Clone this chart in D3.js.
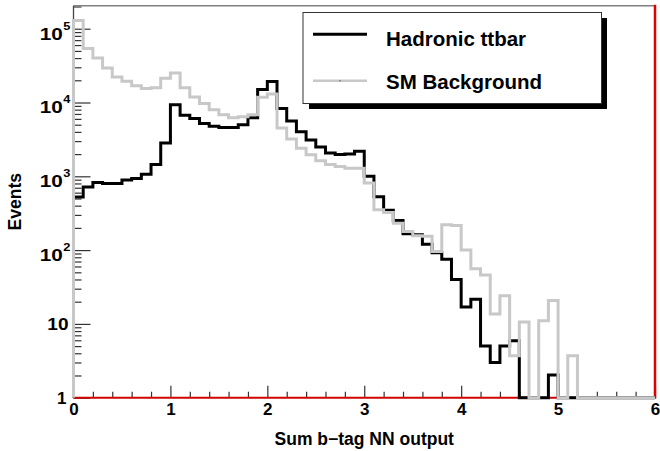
<!DOCTYPE html>
<html><head><meta charset="utf-8">
<script src="https://cdn.jsdelivr.net/npm/d3@7"></script>
<style>
body{margin:0;background:#fff}
svg{display:block}
text{font-family:"Liberation Sans",Arial,Helvetica,sans-serif;font-weight:bold;fill:#000}
</style>
</head><body>
<svg id="chart" width="660" height="451"></svg>
<script>
// ---- data (60 bins of width 0.1 from 0 to 6) ----
const binWidth = 0.1;
const xMin = 0, xMax = 6;
const hadronicTtbar = [
  524, 716, 826, 801, 801, 891, 937, 1070, 1440, 2830,
  9300, 6700, 6050, 5200, 4760, 4600, 4600, 5000, 6200, 15000,
  19300, 8300, 5600, 4000, 3100, 2500, 2070, 1970, 2000, 2180,
  1000, 528, 348, 251, 166, 161, 120, 92, 75, 40,
  16.9, 21.6, 5.0, 3.0, 5.0, 5.9, 0, 0, 0, 2.03,
  0, 0, 0, 0, 0, 0, 0, 0, 0, 0
];
const smBackground = [
  129000, 54000, 40000, 29400, 22200, 19400, 16900, 15500, 15900, 21300,
  25200, 15800, 11900, 9700, 8000, 6800, 6200, 6400, 6800, 11800,
  13000, 4500, 3200, 2400, 1960, 1630, 1440, 1360, 1290, 1290,
  811, 352, 324, 232, 179, 156, 154, 96, 220, 215,
  100, 56, 46, 13.6, 24, 3.7, 10.6, 0, 11, 20.7,
  0, 3.7, 0, 0, 0, 0, 0, 0, 0, 0
];
const yMajorTicks = [1, 10, 100, 1000, 10000, 100000];
const yTickLabels = ["1", "10", "10^2", "10^3", "10^4", "10^5"];
const xMajorTicks = [0, 1, 2, 3, 4, 5, 6];
const xTickLabels = ["0", "1", "2", "3", "4", "5", "6"];
const yMax = 2.05e5;
const seriesNames = ["Hadronic ttbar", "SM Background"];
const xTitle = "Sum b\u2212tag NN output";
const yTitle = "Events";

// ---- layout ----
const L = 73.5, R = 655, T = 5.7, B = 397.7;
const svg = d3.select("#chart");
const x = d3.scaleLinear().domain([xMin, xMax]).range([L, R]);
const y = d3.scaleLog().domain([1, yMax]).range([B, T]);

// minor ticks
const yMinor = [];
yMajorTicks.forEach(d => { for (let k = 2; k <= 9; k++) { if (d * k < yMax) yMinor.push(d * k); } });
const xMinor = d3.range(0, 6.0001, 0.2).map(v => +v.toFixed(1)).filter(v => !xMajorTicks.includes(v));

// y axis minor ticks
svg.append("g").attr("transform", `translate(${L},0)`)
  .call(d3.axisLeft(y).tickValues(yMinor).tickSize(-8).tickFormat(""))
  .call(g => g.select(".domain").remove())
  .call(g => g.selectAll("line").attr("stroke", "#333").attr("stroke-width", 1.2));
// y axis major ticks + labels
const yAx = svg.append("g").attr("transform", `translate(${L},0)`)
  .call(d3.axisLeft(y).tickValues(yMajorTicks).tickSize(-17).tickPadding(5)
    .tickFormat((d, i) => yTickLabels[i]))
  .call(g => g.select(".domain").remove())
  .call(g => g.selectAll("line").attr("stroke", "#333").attr("stroke-width", 1.2));
yAx.selectAll("text").attr("font-size", 17).attr("font-family", null).attr("font-weight", "bold")
  .each(function() {
    const t = d3.select(this);
    const s = t.text();
    if (s.includes("^")) {
      const [base, exp] = s.split("^");
      t.text(null).attr("x", -2.5).attr("y", 5).attr("transform", "scale(1.22,1)");
      t.append("tspan").text(base);
      t.append("tspan").attr("dx", 0.5).attr("dy", -10).attr("font-size", 10.5).text(exp);
    } else if (s === "10") {
      t.attr("x", -4.5).attr("transform", "scale(1.12,1)");
    } else {
      t.attr("x", -7);
    }
  });

// x axis minor & major ticks
svg.append("g").attr("transform", `translate(0,${B})`)
  .call(d3.axisBottom(x).tickValues(xMinor).tickSize(-6).tickFormat(""))
  .call(g => g.select(".domain").remove())
  .call(g => g.selectAll("line").attr("stroke", "#333").attr("stroke-width", 1.2));
const xAx = svg.append("g").attr("transform", `translate(0,${B})`)
  .call(d3.axisBottom(x).tickValues(xMajorTicks).tickSize(-12).tickPadding(5)
    .tickFormat((d, i) => xTickLabels[i]))
  .call(g => g.select(".domain").remove())
  .call(g => g.selectAll("line").attr("stroke", "#333").attr("stroke-width", 1.2));
xAx.selectAll("text").attr("font-size", 17).attr("font-family", null).attr("font-weight", "bold");

// frame
svg.append("line").attr("x1", L).attr("x2", R).attr("y1", T).attr("y2", T)
  .attr("stroke", "#808080").attr("stroke-width", 1.5);
svg.append("line").attr("x1", L).attr("x2", L).attr("y1", T).attr("y2", B)
  .attr("stroke", "#444").attr("stroke-width", 1.3);
svg.append("line").attr("x1", L).attr("x2", R).attr("y1", B).attr("y2", B)
  .attr("stroke", "#d40000").attr("stroke-width", 2);
svg.append("line").attr("x1", R).attr("x2", R).attr("y1", T - 1).attr("y2", B + 1)
  .attr("stroke", "#e00000").attr("stroke-width", 2.5);

// histograms
function stepPoints(vals) {
  const pts = [[x(xMin), B]];
  vals.forEach((v, i) => {
    const yy = v >= 1 ? y(v) : B;
    pts.push([x(i * binWidth), yy]);
    pts.push([x((i + 1) * binWidth), yy]);
  });
  pts.push([x(xMax), B]);
  return pts;
}
const line = d3.line();
svg.append("path").attr("d", line(stepPoints(hadronicTtbar)))
  .attr("fill", "none").attr("stroke", "#000").attr("stroke-width", 3).attr("stroke-linejoin", "miter");
svg.append("path").attr("d", line(stepPoints(smBackground)))
  .attr("fill", "none").attr("stroke", "#c8c8c8").attr("stroke-width", 3).attr("stroke-linejoin", "miter");

// titles
svg.append("text").attr("x", (L + R) / 2).attr("y", 445).attr("text-anchor", "middle")
  .attr("font-size", 17.5).text(xTitle);
svg.append("text").attr("transform", `translate(21,${(T + B) / 2}) rotate(-90)`)
  .attr("text-anchor", "middle").attr("font-size", 17.5).text(yTitle);

// legend
const lg = svg.append("g");
lg.append("rect").attr("x", 309).attr("y", 18).attr("width", 298).attr("height", 91).attr("fill", "#000");
lg.append("rect").attr("x", 303).attr("y", 12.5).attr("width", 298.5).attr("height", 91)
  .attr("fill", "#fff").attr("stroke", "#333").attr("stroke-width", 1);
lg.append("line").attr("x1", 313).attr("x2", 367).attr("y1", 34.3).attr("y2", 34.3)
  .attr("stroke", "#000").attr("stroke-width", 3);
lg.append("text").attr("x", 386).attr("y", 45.5).attr("font-size", 20.5).text(seriesNames[0]);
lg.append("line").attr("x1", 313).attr("x2", 367).attr("y1", 80.7).attr("y2", 80.7)
  .attr("stroke", "#c8c8c8").attr("stroke-width", 2.5);
lg.append("circle").attr("cx", 340).attr("cy", 80.7).attr("r", 0.8).attr("fill", "#666");
lg.append("text").attr("x", 386).attr("y", 88.5).attr("font-size", 20.5).text(seriesNames[1]);
</script>
</body></html>
